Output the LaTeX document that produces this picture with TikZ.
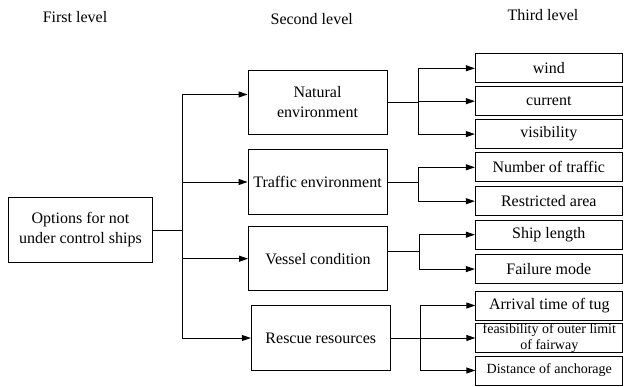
\documentclass[tikz,border=0pt]{standalone}
\usepackage{fontspec}
\setmainfont{Liberation Serif}
\usetikzlibrary{arrows.meta, positioning}

\begin{document}
\begin{tikzpicture}[
  x=1pt, y=-1pt,
  lvl/.style={font=\fontsize{16}{20}\selectfont},
  box/.style={rectangle, draw=black, line width=0.9pt, align=center,
    inner sep=1pt, font=\fontsize{16}{20}\selectfont},
  mainbox/.style={box, minimum width=144pt, minimum height=65pt},
  subbox/.style={box, minimum width=139pt, minimum height=64.5pt},
  leaf/.style={box, minimum width=147pt, minimum height=29pt},
  smleaf/.style={leaf, inner sep=0pt, font=\fontsize{14}{16.5}\selectfont},
  >={Triangle[length=9pt, width=6pt]},
  arr/.style={draw=black, line width=0.9pt, ->},
  link/.style={draw=black, line width=0.9pt},
]

% Frame
\useasboundingbox (0,0) rectangle (624,387);

% Level titles
\node[lvl] (h1) at (75,17) {First level};
\node[lvl] (h2) at (311.7,19) {Second level};
\node[lvl] (h3) at (543,15) {Third level};

% First level
\node[mainbox] (root) at (80.5,230) {Options for not\\under control ships};

% Second level
\node[subbox] (nat) at (317.5,102.5) {Natural\\environment};
\node[subbox] (traf) at (317.5,182) {Traffic environment};
\node[subbox] (ves) at (318,258.7) {Vessel condition};
\node[subbox] (res) at (320.8,338) {Rescue resources};

% Third level
\node[leaf] (wind) at (548.8,68.3) {wind};
\node[leaf, below=3pt of wind] (current) {current};
\node[leaf, below=3pt of current] (vis) {visibility};
\node[leaf] (numtraf) at (548.8,167.3) {Number of traffic};
\node[leaf, below=4pt of numtraf] (restr) {Restricted area};
\node[leaf] (ship) at (548.8,234.7) {Ship length};
\node[leaf, below=4.5pt of ship] (fail) {Failure mode};
\node[leaf] (arrival) at (549.3,305.5) {Arrival time of tug};
\node[smleaf, below=2.4pt of arrival] (feas) {feasibility of outer limit\\of fairway};
\node[smleaf, below=2.4pt of feas] (dist) {Distance of anchorage};

% First to second level
\coordinate (fk0) at (182.3,230);
\draw[link] (root.east) -- (fk0);
\draw[arr] (fk0) |- ([yshift=8pt]nat.west);
\draw[arr] (fk0) |- (traf);
\draw[arr] (fk0) |- (ves);
\draw[arr] (fk0) |- (res);

% Second to third level
\coordinate (fk1) at (418,102.5);
\draw[link] (nat.east) -- (fk1);
\draw[arr] (fk1) |- (wind);
\draw[arr] (fk1) |- (current);
\draw[arr] (fk1) |- (vis);

\coordinate (fk2) at (418,182);
\draw[link] (traf.east) -- (fk2);
\draw[arr] (fk2) |- (numtraf);
\draw[arr] (fk2) |- (restr);

\coordinate (fk3) at (419,251);
\draw[link] ([yshift=7.7pt]ves.east) -- (fk3);
\draw[arr] (fk3) |- (ship);
\draw[arr] (fk3) |- (fail);

\coordinate (fk4) at (420,338);
\draw[link] (res.east) -- (fk4);
\draw[arr] (fk4) |- (arrival);
\draw[arr] (fk4) |- (feas);
\draw[arr] (fk4) |- (dist);
\end{tikzpicture}
\end{document}
